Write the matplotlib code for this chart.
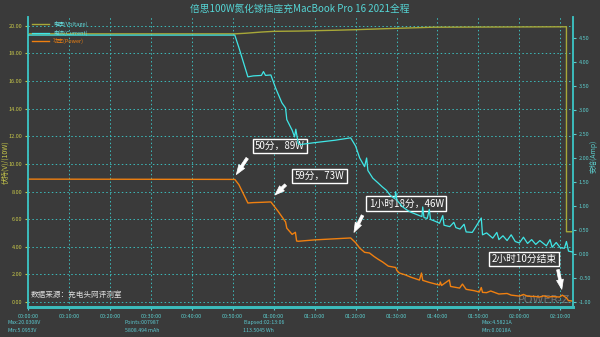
import numpy as np
import matplotlib
matplotlib.use("Agg")
import matplotlib.pyplot as plt

plt.rcParams['font.family'] = ['Noto Sans CJK SC', 'DejaVu Sans']

# time in minutes
volt_t = [0, 50.5, 53, 57, 60, 66, 75, 80, 88, 99, 131.5, 131.51, 133.1]
volt_v = [19.42, 19.42, 19.46, 19.55, 19.60, 19.62, 19.68, 19.72, 19.80, 19.90, 19.93, 5.09, 5.09]

cur_t = [0, 50.5, 51.5, 53.7, 55, 57, 57.5, 58, 59.3, 60.5, 62, 62.9, 63.2, 64.5, 65.1, 65.4,
         66.0, 66.5, 70, 75, 78.8, 80, 81.0, 82.2, 82.7, 83.0, 84.2, 85.5, 86.5, 87.5, 88.5,
         89.6, 89.8, 90.1, 91.5, 92.5, 93.5, 95.0, 96.2, 96.4, 96.7, 97.5, 98.0, 98.3, 99.5,
         100.5, 101.3, 101.6, 103, 104, 104.5, 105.5, 106.5, 107, 108.5, 110.7, 111.0, 112,
         113.5, 114.5, 115.0, 116, 117, 118, 119, 120, 121, 122, 123, 124, 125, 126.6, 127.5,
         128, 129, 130, 131, 131.5, 132, 133.1]
cur_a = [4.56, 4.56, 4.30, 3.69, 3.71, 3.72, 3.80, 3.72, 3.73, 3.45, 3.15, 3.04, 2.80, 2.58, 2.44, 2.60,
         2.30, 2.28, 2.32, 2.37, 2.42, 2.25, 2.00, 1.82, 2.00, 1.74, 1.58, 1.48, 1.40, 1.33, 1.22,
         1.15, 1.30, 1.12, 0.98, 0.92, 0.87, 0.82, 0.78, 0.98, 0.76, 0.74, 0.93, 0.72, 0.68,
         0.64, 0.80, 0.60, 0.57, 0.66, 0.55, 0.52, 0.62, 0.46, 0.45, 0.75, 0.40, 0.44,
         0.33, 0.45, 0.30, 0.38, 0.28, 0.40, 0.26, 0.23, 0.35, 0.22, 0.30, 0.20, 0.28, 0.17, 0.30,
         0.14, 0.24, 0.13, 0.12, 0.26, 0.06, 0.04]

# power in units of 10 W
pow_t = [0, 50.5, 51.5, 53.7, 55, 57, 59.3, 61, 62.9, 63.2, 64.5, 65.3, 65.6, 66.0, 70, 75, 78.8,
         80, 81, 82.2, 83.4, 84.5, 85.5, 86.6, 88, 89.8, 90.1, 90.7, 92, 93.5, 95.6, 96.1, 96.4,
         98, 100.5, 100.7, 101, 102.9, 103.2, 105.4, 106.1, 107, 109, 110.2, 110.7, 111, 112,
         113, 115, 117, 118, 120, 121, 122, 124, 124.9, 126, 127, 128, 129.8, 130.5, 131.5, 132, 133.1]
pow_w = [8.90, 8.88, 8.50, 7.17, 7.20, 7.22, 7.25, 6.60, 5.80, 5.35, 4.90, 5.05, 4.42, 4.40, 4.50, 4.58, 4.64,
         4.30, 3.91, 3.60, 3.55, 3.30, 3.10, 2.90, 2.60, 2.50, 2.28, 2.10, 1.98, 1.80, 1.59, 2.10, 1.57,
         1.42, 1.23, 1.45, 1.20, 1.60, 1.13, 1.01, 1.30, 0.92, 0.82, 0.72, 1.05, 0.70, 0.68,
         0.80, 0.58, 0.62, 0.50, 0.43, 0.55, 0.42, 0.40, 0.36, 0.45, 0.35, 0.40, 0.36, 0.50, 0.30, 0.10, 0.07]

x_ticks = [0, 10, 20, 30, 40, 50, 60, 70, 80, 90, 100, 110, 120, 130]
x_labels = ["00:00:00", "00:10:00", "00:20:00", "00:30:00", "00:40:00", "00:50:00", "01:00:00",
            "01:10:00", "01:20:00", "01:30:00", "01:40:00", "01:50:00", "02:00:00", "02:10:00"]

bg = '#3a3a3a'
teal = '#3cbcbc'
tick_teal = '#5ccccc'
yellow = '#c8c84a'
c_volt = '#a8a838'
c_cur = '#40e6e6'
c_pow = '#f08010'

fig = plt.figure(figsize=(6, 3.37), dpi=100, facecolor=bg)
ax = fig.add_axes([0.0467, 0.089, 0.9083, 0.861], facecolor=bg)
ax2 = ax.twinx()

l_volt, = ax.plot(volt_t, volt_v, color=c_volt, lw=1.0, zorder=3)
l_pow, = ax.plot(pow_t, pow_w, color=c_pow, lw=1.0, zorder=3)
l_cur, = ax2.plot(cur_t, cur_a, color=c_cur, lw=0.9, zorder=3)

ax.set_xlim(0, 133.1)
ax.set_ylim(-0.36, 20.65)
ax2.set_ylim(-1.104, 4.94)

ax.set_xticks(x_ticks)
ax.set_xticklabels(x_labels)
ax.set_yticks(np.arange(0, 21, 2))
ax.set_yticklabels(["%.2f" % v for v in np.arange(0, 21, 2)])
r_ticks = np.arange(-1.0, 4.51, 0.5)
ax2.set_yticks(r_ticks)
ax2.set_yticklabels(["%.2f" % v for v in r_ticks])

ax.tick_params(axis='x', colors=tick_teal, labelsize=4, length=2, pad=3)
ax.tick_params(axis='y', colors=yellow, labelsize=4, length=2, pad=2)
ax2.tick_params(axis='y', colors=tick_teal, labelsize=4, length=2, pad=2)

ax.grid(True, color=teal, linestyle=(0, (1.5, 2.5)), lw=0.7)

for a in (ax, ax2):
    a.spines['top'].set_visible(False)
    a.spines['left'].set_color(teal)
    a.spines['right'].set_color(teal)
    a.spines['bottom'].set_color(teal)
    a.spines['bottom'].set_linewidth(2)
    a.spines['left'].set_linewidth(1.2)
    a.spines['right'].set_linewidth(1.2)

ax.set_ylabel("伏特(V)/(10W)", color=yellow, fontsize=5)
ax.yaxis.set_label_coords(-0.034, 0.5)
ax2.set_ylabel("安培(Amp)", color=tick_teal, fontsize=5)
ax2.yaxis.set_label_coords(1.03, 0.52)

fig.text(0.5, 0.974, "倍思100W氮化镓插座充MacBook Pro 16 2021全程", color='#55d5d5',
         fontsize=7, ha='center', va='center')

leg = ax.legend([l_volt, l_cur, l_pow], ["电压(Voltage)", "电流(Current)", "功率(Power)"],
                loc='upper left', bbox_to_anchor=(0.0, 1.0), frameon=False, fontsize=4,
                handlelength=3, labelspacing=0.5, borderaxespad=0.3)
for txt, col in zip(leg.get_texts(), ['#66dddd', '#66dddd', c_pow]):
    txt.set_color(col)

# annotations
box = dict(boxstyle='square,pad=0.25', fc=bg, ec='white', lw=1)
arrow = dict(arrowstyle='simple,head_width=0.5,head_length=0.7,tail_width=0.2',
             fc='white', ec='white', lw=0.5)
ax.text(61.5, 11.3, "50分，89W", color='white', fontsize=7, ha='center', va='center', bbox=box, zorder=6)
ax.annotate('', xy=(50.5, 9.06), xytext=(53.9, 10.58), arrowprops=arrow, zorder=6)
ax.text(71.2, 9.13, "59分，73W", color='white', fontsize=7, ha='center', va='center', bbox=box, zorder=6)
ax.annotate('', xy=(59.8, 7.61), xytext=(63.4, 8.62), arrowprops=arrow, zorder=6)
ax.text(92.4, 7.14, "1小时18分，46W", color='white', fontsize=7, ha='center', va='center', bbox=box, zorder=6)
ax.annotate('', xy=(79.3, 4.86), xytext=(82.0, 6.45), arrowprops=arrow, zorder=6)
ax.text(121.1, 3.12, "2小时10分结束", color='white', fontsize=7, ha='center', va='center', bbox=box, zorder=6)
ax.annotate('', xy=(130.5, 0.72), xytext=(129.3, 2.54), arrowprops=arrow, zorder=6)

ax.text(0.7, 0.25, "数据来源：充电头网评测室", color='#dddddd', fontsize=5.5, ha='left', va='bottom', zorder=6)
ax.text(132.5, -0.2, "POWER-Z", color='#8a8a8a', fontsize=8, ha='right', va='bottom',
        family='DejaVu Sans', alpha=0.7, zorder=2)

# footer statistics
stat_col = '#5cc8d0'
fig.text(0.012, 0.042, "Max:20.0308V", color=stat_col, fontsize=3.8, va='center')
fig.text(0.012, 0.018, "Min:5.0953V", color=stat_col, fontsize=3.8, va='center')
fig.text(0.208, 0.042, "Points:007987", color=stat_col, fontsize=3.8, va='center')
fig.text(0.208, 0.018, "5808.494 mAh", color=stat_col, fontsize=3.8, va='center')
fig.text(0.405, 0.042, "Elapsed:02:13:06", color=stat_col, fontsize=3.8, va='center')
fig.text(0.405, 0.018, "113.5045 Wh", color=stat_col, fontsize=3.8, va='center')
fig.text(0.803, 0.042, "Max:4.5821A", color=stat_col, fontsize=3.8, va='center')
fig.text(0.803, 0.018, "Min:0.0018A", color=stat_col, fontsize=3.8, va='center')

fig.savefig("out.png", dpi=100, facecolor=bg)
